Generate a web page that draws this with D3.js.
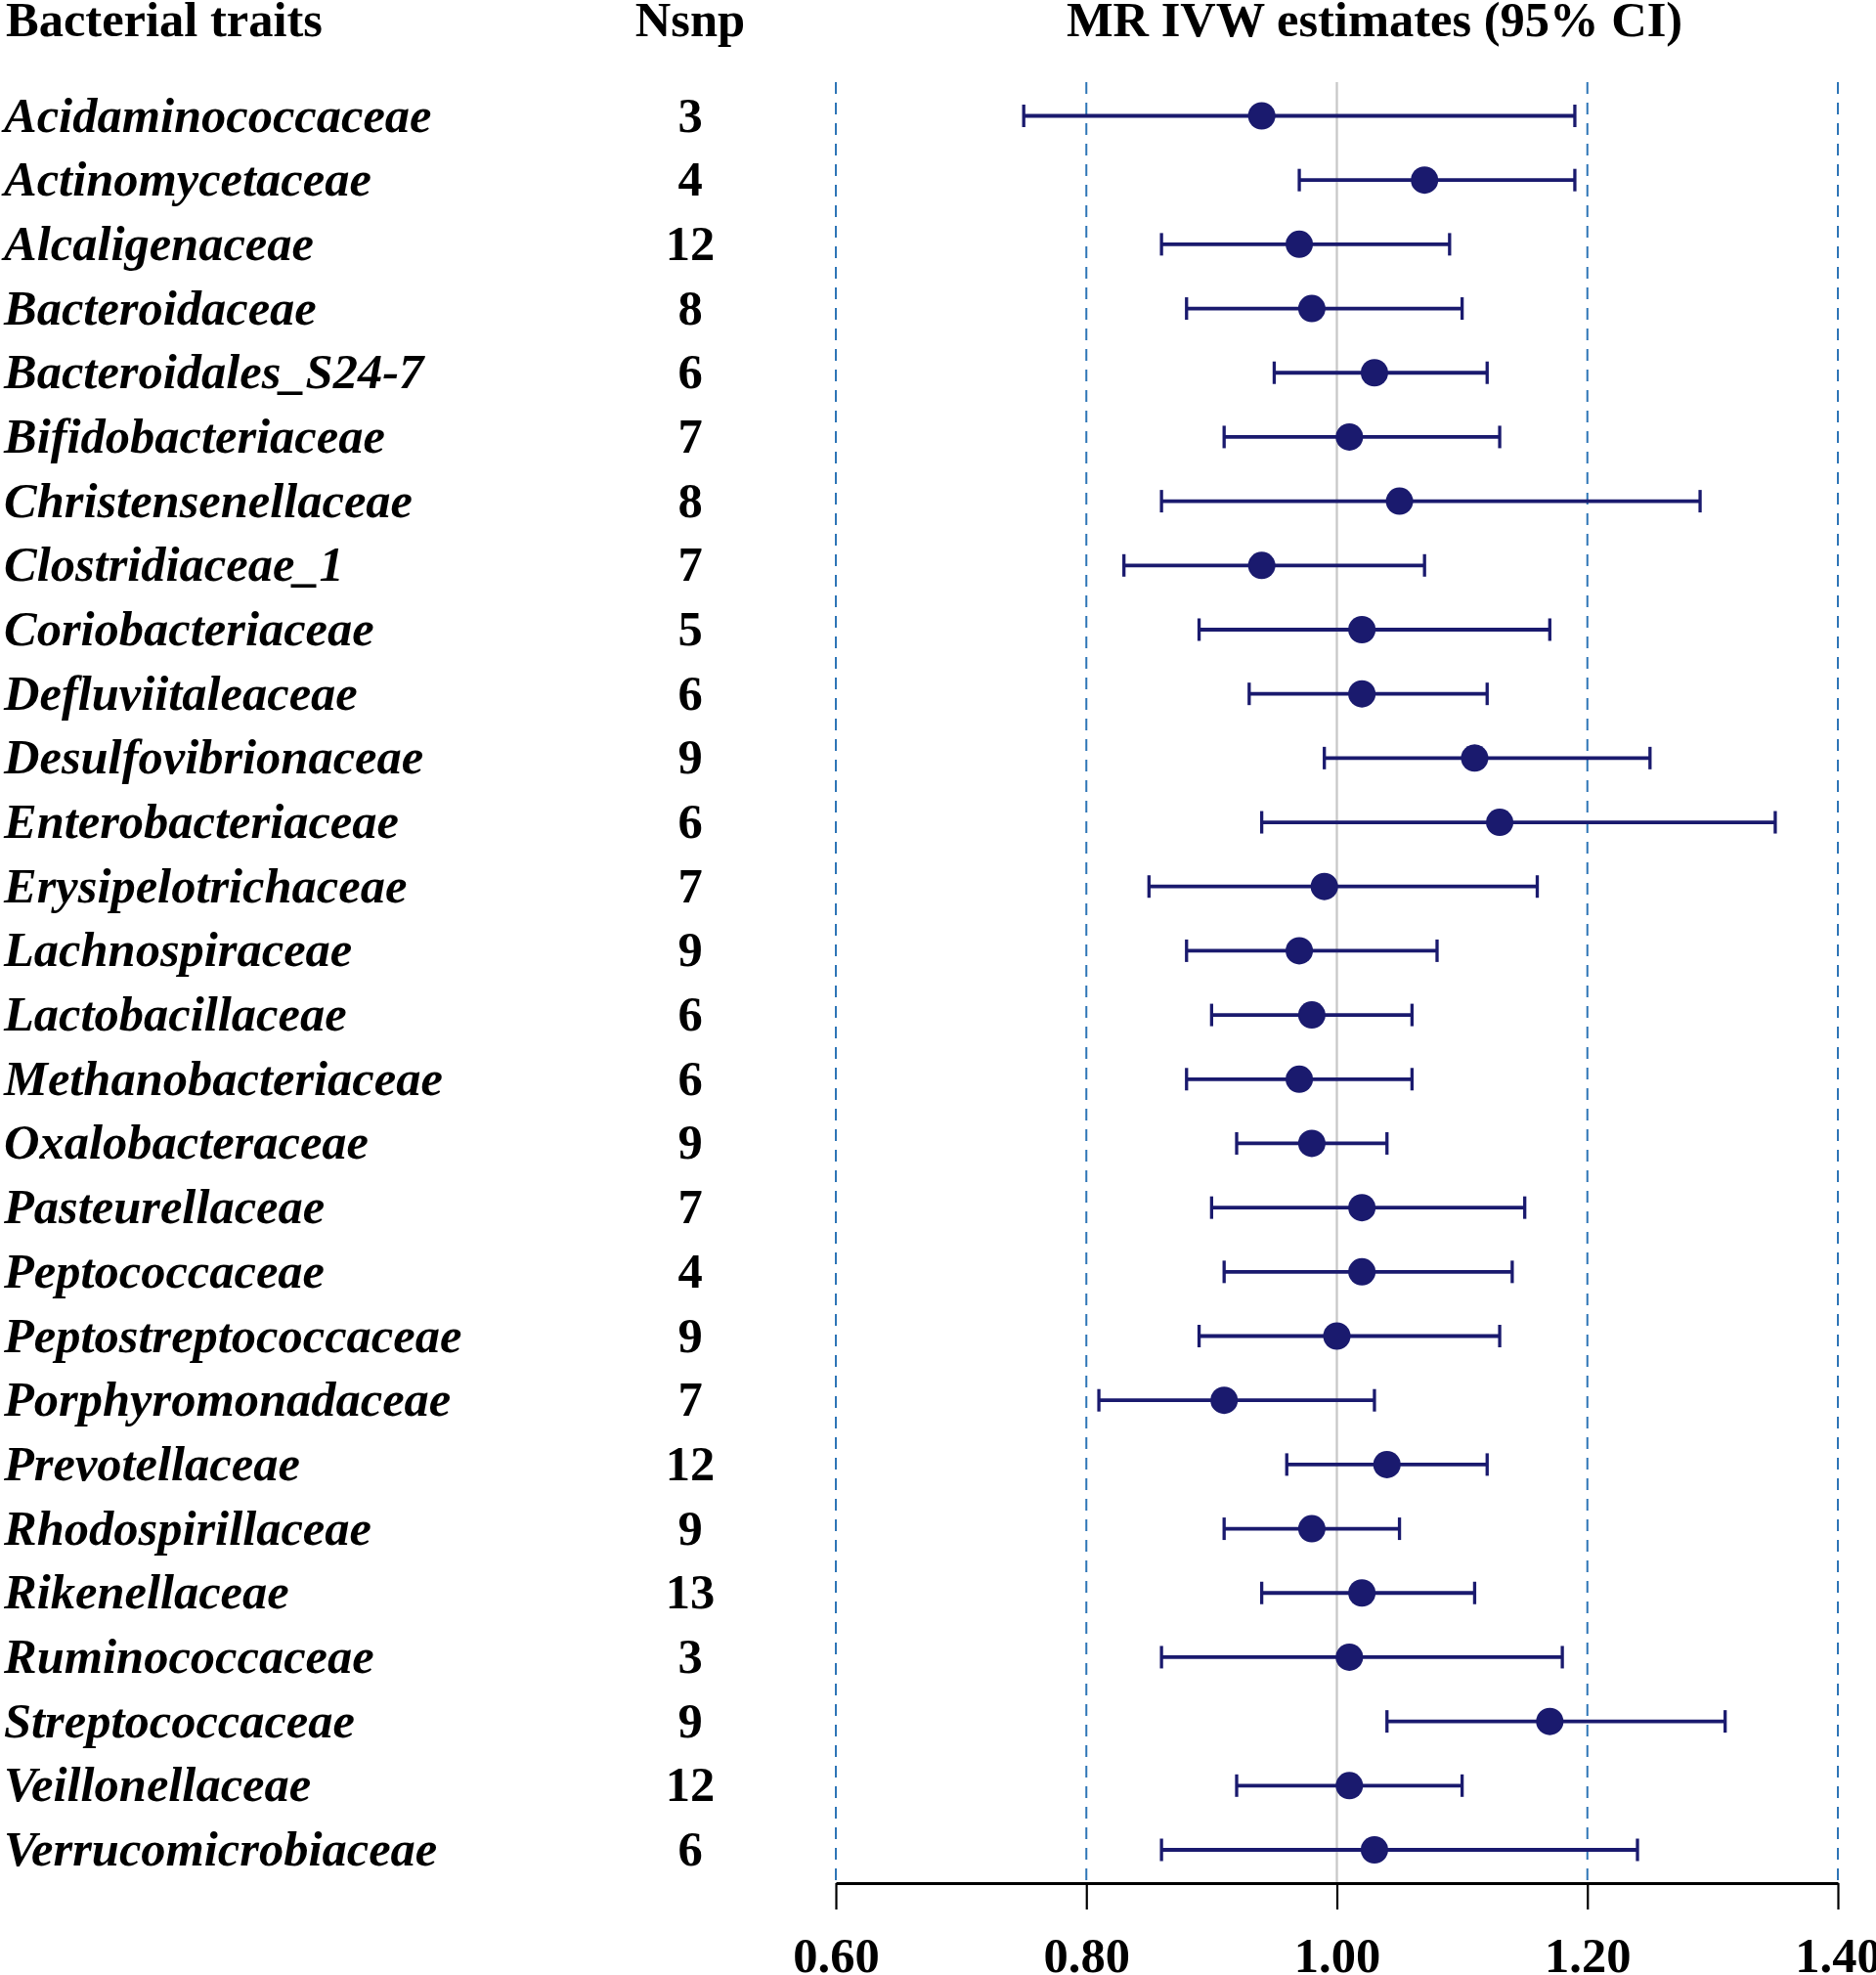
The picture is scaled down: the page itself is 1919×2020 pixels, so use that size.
<!DOCTYPE html>
<html>
<head>
<meta charset="utf-8">
<script src="https://cdn.jsdelivr.net/npm/d3@7"></script>
<style>
  html, body { margin: 0; padding: 0; background: #fff; }
  svg { display: block; }
  text { font-family: "Liberation Serif", "Times New Roman", serif; font-weight: bold; fill: #000; }
</style>
</head>
<body>
<svg id="chart" width="1919" height="2020"></svg>
<script>
const traits = ["Acidaminococcaceae","Actinomycetaceae","Alcaligenaceae","Bacteroidaceae","Bacteroidales_S24-7","Bifidobacteriaceae","Christensenellaceae","Clostridiaceae_1","Coriobacteriaceae","Defluviitaleaceae","Desulfovibrionaceae","Enterobacteriaceae","Erysipelotrichaceae","Lachnospiraceae","Lactobacillaceae","Methanobacteriaceae","Oxalobacteraceae","Pasteurellaceae","Peptococcaceae","Peptostreptococcaceae","Porphyromonadaceae","Prevotellaceae","Rhodospirillaceae","Rikenellaceae","Ruminococcaceae","Streptococcaceae","Veillonellaceae","Verrucomicrobiaceae"];
const nsnp = [3,4,12,8,6,7,8,7,5,6,9,6,7,9,6,6,9,7,4,9,7,12,9,13,3,9,12,6];
const estimate = [0.94,1.07,0.97,0.98,1.03,1.01,1.05,0.94,1.02,1.02,1.11,1.13,0.99,0.97,0.98,0.97,0.98,1.02,1.02,1.00,0.91,1.04,0.98,1.02,1.01,1.17,1.01,1.03];
const lower = [0.75,0.97,0.86,0.88,0.95,0.91,0.86,0.83,0.89,0.93,0.99,0.94,0.85,0.88,0.90,0.88,0.92,0.90,0.91,0.89,0.81,0.96,0.91,0.94,0.86,1.04,0.92,0.86];
const upper = [1.19,1.19,1.09,1.10,1.12,1.13,1.29,1.07,1.17,1.12,1.25,1.35,1.16,1.08,1.06,1.06,1.04,1.15,1.14,1.13,1.03,1.12,1.05,1.11,1.18,1.31,1.10,1.24];
const tickValues = [0.60,0.80,1.00,1.20,1.40];
const dashedRefs = [0.60,0.80,1.20,1.40];
const nullRef = [1.00];
const headers = ["Bacterial traits","Nsnp","MR IVW estimates (95% CI)"];

const navy = "#1a1a6e";
const svg = d3.select("#chart");
const x = d3.scaleLinear().domain([0.6,1.4]).range([855,1880]);
const y = d3.scalePoint().domain(traits).range([118.5,1892]);
const axisY = 1926, lineTop = 84;
const FS = 50.5;

// headers
svg.append("text").attr("x",6).attr("y",37).attr("font-size",FS).text(headers[0]);
svg.append("text").attr("x",706).attr("y",37).attr("font-size",FS).attr("text-anchor","middle").text(headers[1]);
svg.append("text").attr("x",1406).attr("y",37).attr("font-size",FS).attr("text-anchor","middle").text(headers[2]);

// reference lines
svg.append("g").selectAll("line").data(nullRef).join("line")
  .attr("x1",d=>x(d)).attr("x2",d=>x(d)).attr("y1",lineTop).attr("y2",axisY)
  .attr("stroke","#c8c8c8").attr("stroke-width",2.3);
svg.append("g").selectAll("line").data(dashedRefs).join("line")
  .attr("x1",d=>x(d)).attr("x2",d=>x(d)).attr("y1",lineTop).attr("y2",axisY)
  .attr("stroke","#2e75b6").attr("stroke-width",2).attr("stroke-dasharray","12,9");

// labels
const rows = traits.map((t,i)=>({t, n:nsnp[i], est:estimate[i], lo:lower[i], hi:upper[i]}));
svg.append("g").selectAll("text").data(rows).join("text")
  .attr("x",4).attr("y",d=>y(d.t)+16).attr("font-size",FS).attr("font-style","italic").text(d=>d.t);
svg.append("g").selectAll("text").data(rows).join("text")
  .attr("x",706).attr("y",d=>y(d.t)+16).attr("font-size",FS).attr("text-anchor","middle").text(d=>d.n);

// error bars
const g = svg.append("g");
g.selectAll("line.ci").data(rows).join("line").attr("class","ci")
  .attr("x1",d=>x(d.lo)).attr("x2",d=>x(d.hi)).attr("y1",d=>y(d.t)).attr("y2",d=>y(d.t))
  .attr("stroke",navy).attr("stroke-width",3.8);
g.selectAll("line.capl").data(rows).join("line").attr("class","capl")
  .attr("x1",d=>x(d.lo)).attr("x2",d=>x(d.lo)).attr("y1",d=>y(d.t)-11.5).attr("y2",d=>y(d.t)+11.5)
  .attr("stroke",navy).attr("stroke-width",3.3);
g.selectAll("line.caph").data(rows).join("line").attr("class","caph")
  .attr("x1",d=>x(d.hi)).attr("x2",d=>x(d.hi)).attr("y1",d=>y(d.t)-11.5).attr("y2",d=>y(d.t)+11.5)
  .attr("stroke",navy).attr("stroke-width",3.3);
g.selectAll("circle").data(rows).join("circle")
  .attr("cx",d=>x(d.est)).attr("cy",d=>y(d.t)).attr("r",14).attr("fill",navy);

// axis
const axis = d3.axisBottom(x).tickValues(tickValues).tickFormat(d3.format(".2f")).tickSize(27).tickSizeOuter(0);
const ag = svg.append("g").attr("transform",`translate(0,${axisY})`).call(axis);
ag.select(".domain").attr("stroke","#000").attr("stroke-width",3);
ag.selectAll(".tick line").attr("stroke","#000").attr("stroke-width",2.2);
ag.selectAll(".tick text").attr("font-size",FS).attr("font-family",'"Liberation Serif", "Times New Roman", serif')
  .attr("font-weight","bold").attr("fill","#000").attr("y",91).attr("dy",0);
</script>
</body>
</html>
